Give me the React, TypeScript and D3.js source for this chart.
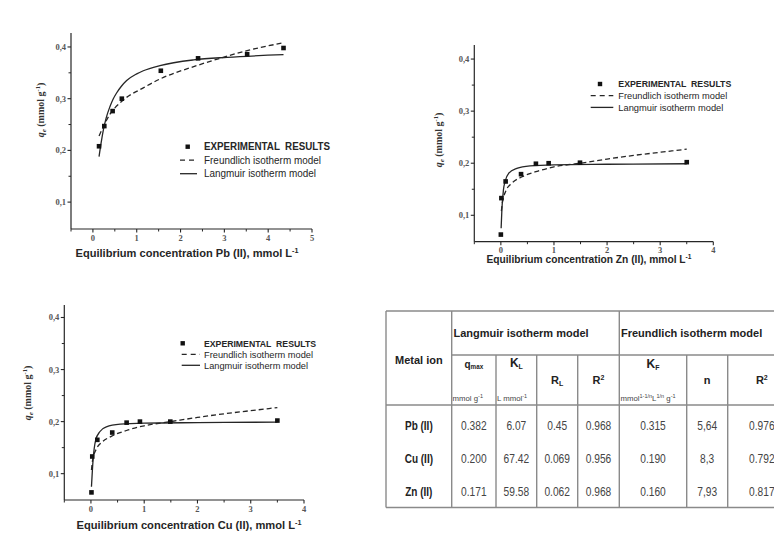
import React from 'react';
import * as d3 from 'd3';

// Pb (II) panel
const pbExpX = [0.14, 0.26, 0.45, 0.66, 1.55, 2.40, 3.52, 4.35];
const pbExpY = [0.208, 0.247, 0.276, 0.300, 0.354, 0.378, 0.386, 0.398];
const pbLangX = [0.14, 0.19, 0.24, 0.30, 0.39, 0.46, 0.54, 0.65, 0.77, 1.0, 1.15, 1.53, 2.30, 3.06, 4.35];
const pbLangY = [0.188, 0.216, 0.240, 0.262, 0.285, 0.299, 0.311, 0.324, 0.335, 0.348, 0.354, 0.364, 0.375, 0.380, 0.385];
const pbFreuX = [0.14, 0.39, 0.66, 1.15, 1.53, 2.30, 2.90, 3.52, 4.35];
const pbFreuY = [0.228, 0.270, 0.295, 0.321, 0.338, 0.362, 0.378, 0.393, 0.408];

// Zn (II) panel
const znExpX = [0.0, 0.01, 0.09, 0.38, 0.66, 0.90, 1.49, 3.50];
const znExpY = [0.063, 0.133, 0.165, 0.179, 0.199, 0.200, 0.201, 0.202];
const znLangX = [0.005, 0.02, 0.05, 0.08, 0.15, 0.30, 0.55, 1.0, 2.0, 3.5];
const znLangY = [0.075, 0.112, 0.150, 0.165, 0.181, 0.190, 0.195, 0.197, 0.198, 0.199];
const znFreuX = [0.01, 0.03, 0.10, 0.20, 0.40, 0.70, 1.00, 1.50, 2.00, 2.50, 3.00, 3.50];
const znFreuY = [0.108, 0.125, 0.148, 0.161, 0.174, 0.185, 0.193, 0.200, 0.208, 0.215, 0.221, 0.227];

// Cu (II) panel
const cuExpX = [0.01, 0.025, 0.12, 0.40, 0.67, 0.92, 1.49, 3.50];
const cuExpY = [0.064, 0.133, 0.165, 0.179, 0.198, 0.200, 0.200, 0.202];
const cuLangX = [0.01, 0.04, 0.09, 0.17, 0.29, 0.55, 1.0, 2.0, 3.5];
const cuLangY = [0.075, 0.126, 0.165, 0.181, 0.190, 0.195, 0.197, 0.198, 0.199];
const cuFreuX = [0.01, 0.03, 0.11, 0.20, 0.39, 0.70, 1.00, 1.50, 2.00, 2.50, 3.00, 3.50];
const cuFreuY = [0.107, 0.125, 0.149, 0.160, 0.172, 0.184, 0.192, 0.200, 0.208, 0.215, 0.221, 0.227];

const yTicks = [0.1, 0.2, 0.3, 0.4];
const yMinor = [0.15, 0.25, 0.35];
const pbXTicks = [0, 1, 2, 3, 4, 5];
const pbXMinor = [-0.5, 0.5, 1.5, 2.5, 3.5, 4.5];
const znXTicks = [0, 1, 2, 3, 4];
const znXMinor = [-0.5, 0.5, 1.5, 2.5, 3.5];

const legendLabels = ['EXPERIMENTAL  RESULTS', 'Freundlich isotherm model', 'Langmuir isotherm model'];

// table
const tableIons = ['Pb (II)', 'Cu (II)', 'Zn (II)'];
const qmaxVals = ['0.382', '0.200', '0.171'];
const klVals = ['6.07', '67.42', '59.58'];
const rlVals = ['0.45', '0.069', '0.062'];
const r2LangVals = ['0.968', '0.956', '0.968'];
const kfVals = ['0.315', '0.190', '0.160'];
const nVals = ['5,64', '8,3', '7,93'];
const r2FreuVals = ['0.976', '0.792', '0.817'];

const INK = '#262626';
const SERIF = '"Liberation Serif", "DejaVu Serif", serif';
const SANS = '"Liberation Sans", Arial, sans-serif';

const zip = (xs: number[], ys: number[]) => xs.map((v, i) => [v, ys[i]] as [number, number]);
const fmt = (v: number) => v.toFixed(1).replace('.', ',');

function Panel(p: any) {
  const x = d3.scaleLinear().domain(p.xDomain).range(p.xRange);
  const y = d3.scaleLinear().domain(p.yDomain).range(p.yRange);
  const line = d3.line<[number, number]>()
    .x(d => x(d[0]))
    .y(d => y(d[1]))
    .curve(d3.curveMonotoneX);
  const [x0, x1] = p.xRange;
  const [yb, yt] = p.yRange;
  const lg = p.legend;

  return (
    <g>
      {/* fits */}
      <path d={line(zip(p.freuX, p.freuY)) || ''} fill="none" stroke={INK} strokeWidth={1.3} strokeDasharray="5,3" />
      <path d={line(zip(p.langX, p.langY)) || ''} fill="none" stroke={INK} strokeWidth={1.3} />
      {p.expX.map((v: number, i: number) => (
        <rect key={i} x={x(v) - 2.3} y={y(p.expY[i]) - 2.3} width={4.6} height={4.6} fill="#111" />
      ))}

      {/* axes */}
      <line x1={x0} x2={x1} y1={yb} y2={yb} stroke={INK} strokeWidth={1.2} />
      <line x1={x0} x2={x0} y1={yb} y2={yt} stroke={INK} strokeWidth={1.2} />
      {p.xTicks.map((t: number) => (
        <g key={'x' + t}>
          <line x1={x(t)} x2={x(t)} y1={yb} y2={yb + 3.5} stroke={INK} strokeWidth={1.1} />
          <text x={x(t)} y={yb + 11.5} textAnchor="middle" fontFamily={SERIF} fontWeight="bold" fontSize={8.5} fill="#555">{t}</text>
        </g>
      ))}
      {p.xMinor.map((t: number) => (
        <line key={'xm' + t} x1={x(t)} x2={x(t)} y1={yb} y2={yb + 2.5} stroke={INK} strokeWidth={1} />
      ))}
      {yTicks.map(t => (
        <g key={'y' + t}>
          <line x1={x0} x2={x0 - 3.5} y1={y(t)} y2={y(t)} stroke={INK} strokeWidth={1.1} />
          <text x={x0 - 5} y={y(t) + 3} textAnchor="end" fontFamily={SERIF} fontWeight="bold" fontSize={8.5} fill="#555">{fmt(t)}</text>
        </g>
      ))}
      {yMinor.map(t => (
        <line key={'ym' + t} x1={x0} x2={x0 - 2.5} y1={y(t)} y2={y(t)} stroke={INK} strokeWidth={1} />
      ))}

      {/* axis titles */}
      <text x={p.titleX} y={p.titleY} textAnchor="middle" fontFamily={SANS} fontWeight="bold" fontSize={10}
        fill={INK} textLength={p.titleLen} lengthAdjust="spacingAndGlyphs">
        {`Equilibrium concentration ${p.metal}, mmol  L`}<tspan fontSize={6.5} dy={-4}>-1</tspan>
      </text>
      <text transform={`translate(${p.ylabX},${p.ylabY}) rotate(-90)`} textAnchor="middle" fontFamily={SERIF}
        fontWeight="bold" fontSize={10} fill="#333">
        <tspan fontStyle="italic">q</tspan>
        <tspan fontStyle="italic" fontSize={7} dy={2}>e</tspan>
        <tspan dy={-2}> (mmol g</tspan>
        <tspan fontSize={6.5} dy={-4}>-1</tspan>
        <tspan dy={4}>)</tspan>
      </text>

      {/* legend */}
      <rect x={lg.mx - 2.2} y={lg.y - 2.2} width={4.4} height={4.4} fill="#111" />
      <line x1={lg.l0} x2={lg.l1} y1={lg.y + lg.dy} y2={lg.y + lg.dy} stroke={INK} strokeWidth={1.3} strokeDasharray="5,4" />
      <line x1={lg.l0} x2={lg.l1} y1={lg.y + 2 * lg.dy} y2={lg.y + 2 * lg.dy} stroke={INK} strokeWidth={1.3} />
      {legendLabels.map((s, i) => (
        <text key={s} x={lg.tx} y={lg.y + i * lg.dy + 3.3} fontFamily={SANS} fontSize={lg.fs}
          fontWeight={i === 0 ? 'bold' : 'normal'} fill={INK}
          textLength={lg.lens[i]} lengthAdjust="spacingAndGlyphs" style={{ whiteSpace: 'pre' }}>{s}</text>
      ))}
    </g>
  );
}

function Table() {
  const cols = [386, 451.7, 496, 536.7, 577.7, 619.3, 686.7, 727.7, 796];
  const top = 311, mid = 355, head = 405, bottom = 507.5;
  const centers = cols.slice(1, 8).map((c, i) => (c + cols[i + 2]) / 2);
  const rowBase = [429.5, 462.5, 496];
  const valueCols = [qmaxVals, klVals, rlVals, r2LangVals, kfVals, nVals, r2FreuVals];
  const stroke = '#8a8a8a';
  const sw = 1.4;

  const sq = (cx: number, cy: number, s: number) => `translate(${cx},${cy}) scale(${s},1)`;

  return (
    <g fontFamily={SANS}>
      {/* grid */}
      <line x1={cols[0]} x2={cols[8]} y1={top} y2={top} stroke={stroke} strokeWidth={sw} />
      <line x1={cols[1]} x2={cols[8]} y1={mid} y2={mid} stroke={stroke} strokeWidth={sw} />
      <line x1={cols[0]} x2={cols[8]} y1={head} y2={head} stroke={stroke} strokeWidth={sw} />
      <line x1={cols[0]} x2={cols[8]} y1={bottom} y2={bottom} stroke={stroke} strokeWidth={sw} />
      {[0, 1, 5].map(i => (
        <line key={'v' + i} x1={cols[i]} x2={cols[i]} y1={top} y2={bottom} stroke={stroke} strokeWidth={sw} />
      ))}
      {[2, 3, 4, 6, 7].map(i => (
        <line key={'s' + i} x1={cols[i]} x2={cols[i]} y1={mid} y2={bottom} stroke={stroke} strokeWidth={sw} />
      ))}

      {/* headers */}
      <text x={(cols[0] + cols[1]) / 2} y={364} textAnchor="middle" fontWeight="bold" fontSize={11} fill="#222">Metal ion</text>
      <text x={453.5} y={337} fontWeight="bold" fontSize={11} fill="#222">Langmuir isotherm model</text>
      <text x={621} y={337} fontWeight="bold" fontSize={11} fill="#222">Freundlich isotherm model</text>

      <text transform={sq(centers[0], 368, 0.9)} textAnchor="middle" fontWeight="bold" fontSize={11} fill="#222">
        q<tspan fontSize={7} dy={1}>max</tspan>
      </text>
      <text transform={sq(centers[1], 367, 1)} textAnchor="middle" fontWeight="bold" fontSize={12} fill="#222">
        K<tspan fontSize={7} dy={1.5}>L</tspan>
      </text>
      <text transform={sq(centers[2], 384, 1)} textAnchor="middle" fontWeight="bold" fontSize={11} fill="#222">
        R<tspan fontSize={7} dy={1.5}>L</tspan>
      </text>
      <text transform={sq(centers[3], 384, 1)} textAnchor="middle" fontWeight="bold" fontSize={11} fill="#222">
        R<tspan fontSize={7} dy={-4}>2</tspan>
      </text>
      <text transform={sq(centers[4], 368, 1)} textAnchor="middle" fontWeight="bold" fontSize={12} fill="#222">
        K<tspan fontSize={7} dy={1.5}>F</tspan>
      </text>
      <text transform={sq(centers[5], 384, 1)} textAnchor="middle" fontWeight="bold" fontSize={11} fill="#222">n</text>
      <text transform={sq(centers[6], 384, 1)} textAnchor="middle" fontWeight="bold" fontSize={11} fill="#222">
        R<tspan fontSize={7} dy={-4}>2</tspan>
      </text>

      {/* units */}
      <text x={452.5} y={401} fontSize={7.8} fill="#444">mmol g<tspan fontSize={5.5} dy={-3}>-1</tspan></text>
      <text x={497} y={401} fontSize={7.8} fill="#444">L mmol<tspan fontSize={5.5} dy={-3}>-1</tspan></text>
      <text x={620.5} y={401} fontSize={7.8} fill="#444">
        mmol<tspan fontSize={5.5} dy={-3}>1-1/n</tspan><tspan dy={3}>L</tspan><tspan fontSize={5.5} dy={-3}>1/n</tspan><tspan dy={3}> g</tspan><tspan fontSize={5.5} dy={-3}>-1</tspan>
      </text>

      {/* rows */}
      {tableIons.map((ion, r) => (
        <g key={ion}>
          <text transform={sq((cols[0] + cols[1]) / 2, rowBase[r], 0.8)} textAnchor="middle" fontWeight="bold" fontSize={12.5} fill="#222">{ion}</text>
          {valueCols.map((vals, c) => (
            <text key={c} transform={sq(centers[c], rowBase[r], 0.85)} textAnchor="middle" fontSize={12} fill="#444">{vals[r]}</text>
          ))}
        </g>
      ))}
    </g>
  );
}

export default function App() {
  return (
    <div style={{ position: 'absolute', left: 0, top: 0 }}>
      <svg width={774} height={533} style={{ display: 'block', background: '#fff' }}>
        <Panel
          xDomain={[-0.5, 5]} xRange={[71, 312]} yDomain={[0.048, 0.427]} yRange={[229, 33]}
          xTicks={pbXTicks} xMinor={pbXMinor}
          expX={pbExpX} expY={pbExpY} langX={pbLangX} langY={pbLangY} freuX={pbFreuX} freuY={pbFreuY}
          metal="Pb (II)" titleX={187} titleY={257} titleLen={223}
          ylabX={44} ylabY={110}
          legend={{ mx: 187.7, l0: 180, l1: 197, tx: 204, y: 146.7, dy: 13.5, fs: 10, lens: [126, 117, 112] }}
        />
        <Panel
          xDomain={[-0.5, 4]} xRange={[474.3, 713.3]} yDomain={[0.0493, 0.427]} yRange={[241.7, 45]}
          xTicks={znXTicks} xMinor={znXMinor}
          expX={znExpX} expY={znExpY} langX={znLangX} langY={znLangY} freuX={znFreuX} freuY={znFreuY}
          metal="Zn (II)" titleX={589} titleY={263} titleLen={205}
          ylabX={442} ylabY={140}
          legend={{ mx: 600, l0: 590.7, l1: 613.3, tx: 618.3, y: 84, dy: 11.7, fs: 9, lens: [113, 109, 105] }}
        />
        <Panel
          xDomain={[-0.5, 4]} xRange={[64.3, 304]} yDomain={[0.0494, 0.424]} yRange={[500, 305]}
          xTicks={znXTicks} xMinor={znXMinor}
          expX={cuExpX} expY={cuExpY} langX={cuLangX} langY={cuLangY} freuX={cuFreuX} freuY={cuFreuY}
          metal="Cu (II)" titleX={189} titleY={529} titleLen={225}
          ylabX={30.5} ylabY={393}
          legend={{ mx: 182.7, l0: 181.7, l1: 200, tx: 204, y: 343.3, dy: 11, fs: 9, lens: [112, 109, 104] }}
        />
        <Table />
      </svg>
    </div>
  );
}
